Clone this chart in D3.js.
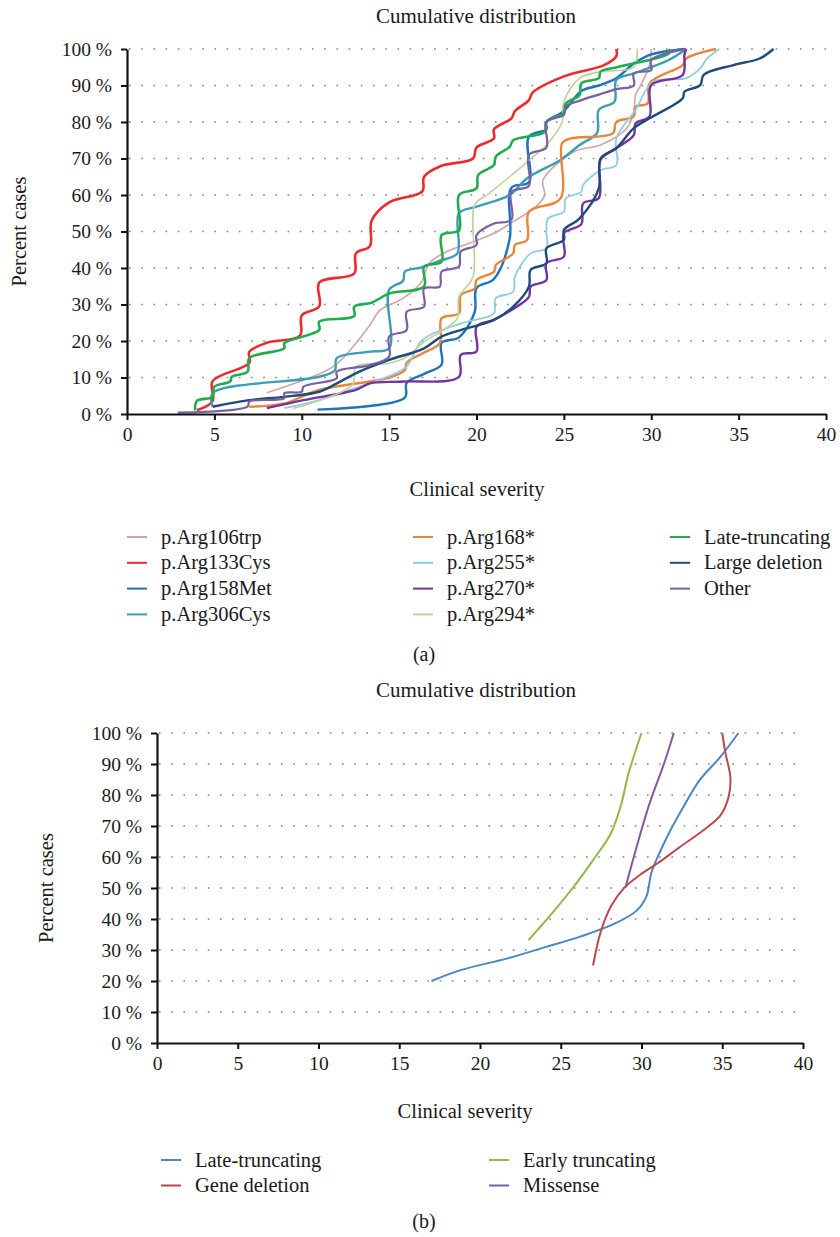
<!DOCTYPE html>
<html>
<head>
<meta charset="utf-8">
<script src="https://cdn.jsdelivr.net/npm/d3@7"></script>
<style>
  body { margin: 0; background: #fff; }
  svg { display: block; }
  text { font-family: "Liberation Serif", "DejaVu Serif", serif; fill: #1a1a1a; }
  .axis path, .axis line { stroke: #111; }
</style>
</head>
<body>
<svg width="840" height="1237"></svg>
<script>
// ---- data: [clinical severity, percent cases] ----
const severityTicks = [0, 5, 10, 15, 20, 25, 30, 35, 40];
const percentTicks = [0, 10, 20, 30, 40, 50, 60, 70, 80, 90, 100];

// panel (a)
const arg106trp = [[8,5.8],[11.8,13],[13.1,19.4],[13.9,24.4],[14.5,28.5],[15.8,31.7],[16.8,35.8],[17.3,41.3],[18.3,44.5],[19.6,46.8],[21,49.5],[22.1,52.7],[23.4,56.8],[23.9,60],[23.8,64],[25.6,71.9],[27.1,73.7],[28.6,78.3],[29,82.8],[29.1,87.4],[29.4,90.1],[29.9,95.6],[30,100]];
const arg133Cys = [[4,1],[4.9,3.5],[4.9,9],[7,14],[7,17],[8,19.5],[9.9,21.5],[10,27],[11,29.5],[11,36],[13,38.5],[13.1,44],[13.9,46],[14,53],[15,58],[16.9,61],[17,65],[18,68],[19.8,70],[20,73],[21,75.5],[21,78],[22,81],[22.2,83],[23,86],[23.2,88],[25,92.5],[27.3,95.6],[28,98],[28,100]];
const arg158Met = [[10.9,1.2],[15.9,4.5],[16,8.5],[17,11],[18,13.5],[18,19.5],[19,21],[19.9,28],[20,34.5],[21,37],[21.9,48],[22,62],[23,63.5],[23,76],[24,78],[24,80],[25,83],[26,88.5],[27,90],[28,92],[29,96],[30,98.5],[32,100]];
const arg306Cys = [[4.9,2],[4.9,5.7],[11,10.2],[11.9,12],[12,15.3],[13.9,17.1],[15,18],[15,34],[15.8,36.5],[15.9,39],[16.9,40.2],[17.9,42],[18.9,44],[19,55],[20,56.8],[21.9,60],[22.9,64.6],[24.8,69.6],[25.9,73.7],[26.9,77],[27,83.3],[27.9,85.6],[28,91.5],[29,93.3],[31,97],[32,100]];
const arg168 = [[7,2],[9,2.9],[11,6.6],[13.9,8.9],[14.9,9.8],[15.9,12],[16,14],[16.9,16.6],[17.9,19.4],[18,26.2],[19,27.6],[19.1,32.6],[19.9,34.4],[20,36.7],[21,39],[21.1,40.8],[22.1,44],[22.2,46.3],[22.9,47.7],[23,55.4],[24.8,59],[24.9,74.2],[25.4,75.5],[27.8,76.9],[28,80],[29,81.5],[29.1,84.2],[29.8,85.1],[29.9,90.6],[31.8,95.6],[32,97.4],[33.7,100]];
const arg255 = [[9,1.6],[11,3.8],[13,7],[14.9,10.2],[16,13],[16.9,20.3],[19.1,24.8],[21,27.6],[21.1,31.7],[22.1,33.5],[22.2,37.6],[23.1,44],[24,45.4],[24,50],[24.1,53.6],[25,55.4],[25.1,59],[26,60.9],[26.1,62.7],[27.1,66.8],[28,68.2],[28,75.5],[29.1,83.3],[30.1,91],[32,92],[32.8,94.7],[33.2,97.4],[33.9,100]];
const arg270 = [[8,1.6],[10.1,3.8],[13.1,6.6],[13.9,8.4],[15.8,8.9],[19,10.2],[19.1,16.2],[20,17.1],[20,23.9],[21,25.8],[22,28.5],[23,32.1],[23.1,34.9],[24,36.7],[24,41.3],[25,43.1],[25,49.5],[26,52],[26.1,57.7],[27,59.2],[27.1,69.6],[28,72.8],[29,76.4],[29.1,79.6],[29.9,81.5],[30,90.1],[31.8,92.9],[31.9,98.4],[32,100]];
const arg294 = [[9.5,1.5],[12.9,8],[13.1,13],[15,13.9],[16,15.7],[17,19.8],[18.1,23],[18.9,26.2],[19,32.1],[19.8,37.6],[19.9,57.3],[20.6,60],[21.9,65],[22.9,69.1],[24,73.7],[24.9,80],[25,85.6],[25.9,92],[27.1,93.8],[29,95],[29.2,100]];
const lateTruncA = [[3.9,1],[4,3.6],[4.9,4.7],[5,7.5],[5.9,8.9],[6,10.2],[6.9,11.6],[7,15.3],[9,18],[9,19.4],[11,23],[11,25.3],[13,26.8],[13,29.4],[14,30.5],[15,33],[17,35],[17,40.4],[18,41.7],[18,49],[19,50.4],[19,60],[20,61.8],[20.1,65.5],[21,68.2],[21.1,70.5],[21.9,73.2],[22.1,75],[23.9,77.3],[24,80],[25,82.4],[25.1,85],[25.9,87.4],[26,90.6],[27,92],[27.1,93.8],[28.1,95.1],[31,98.8],[31,100]];
const largeDeletion = [[4.9,2],[7,3.8],[9,4.7],[11,6.1],[12,8.4],[13.3,11.6],[15,14.8],[17,18],[18,21.2],[19.1,23],[21,25.8],[22.1,29.4],[23,34.9],[23.1,39.5],[24,41.3],[24,45.4],[25,47.7],[25,50.4],[25.9,53.6],[27,61.8],[27.1,70],[28,72.8],[29,78.3],[29.9,81],[31.8,86.5],[31.9,88.3],[32.8,90.1],[33,92.9],[34.7,95.6],[36.2,97.4],[37,100]];
const otherA = [[2.9,0.4],[6.9,2],[7,3.4],[9,4.3],[9,5.7],[10,6.1],[10.1,7.5],[12,9.8],[12,11.6],[13.9,13.4],[15,15.7],[15,21.2],[16,23],[16,28],[17,29.4],[17,34.4],[17.9,34.9],[18,39],[19,40.4],[19.1,44.5],[20,46.3],[20,49],[21,52.2],[22,53.2],[22,60.9],[23,62.5],[23,71],[24,73],[24,80],[25,82],[25.1,84.2],[26,86],[27,87.5],[28,89],[29,90],[29,93.3],[30,94.2],[30,97],[32,100]];

const namesA = ['p.Arg106trp','p.Arg133Cys','p.Arg158Met','p.Arg306Cys','p.Arg168*','p.Arg255*','p.Arg270*','p.Arg294*','Late-truncating','Large deletion','Other'];
const seriesA = [arg106trp, arg133Cys, arg158Met, arg306Cys, arg168, arg255, arg270, arg294, lateTruncA, largeDeletion, otherA];

// panel (b)
const lateTruncB = [[17,20],[18.8,23.5],[21.7,27.3],[24.1,31],[26.2,34.3],[28.3,38.4],[29.7,42.7],[30.3,47.2],[30.6,54.7],[31,60],[31.8,68.7],[32.6,76.2],[33.6,84.8],[34.9,92.4],[36,100]];
const geneDeletion = [[27,25],[27.45,35.4],[28.1,44],[28.9,49.9],[29.9,54.2],[31,58],[32.4,63.3],[33.85,68.7],[34.9,73.5],[35.4,79.5],[35.5,85.9],[35.2,93.5],[35,100]];
const earlyTrunc = [[23,33.2],[24.55,42.4],[25.8,50.4],[27,59],[28.1,67.6],[28.7,76.2],[29.2,87],[30,100]];
const missense = [[29,50],[29.7,63.3],[30.5,77.3],[31.4,90.2],[32,100]];

const namesB = ['Late-truncating','Gene deletion','Early truncating','Missense'];
const seriesB = [lateTruncB, geneDeletion, earlyTrunc, missense];

// ---- styles ----
const colorsA = ['#d8a2a4','#ed2a2e','#1c74bc','#3b9db6','#e8873a','#8ecde0','#7532a0','#bad49c','#22ad4c','#1f4a7c','#7a5fa2'];
const widthsA = [1.6,2.6,2.4,2.4,2.4,1.8,2.4,1.6,2.6,2.4,2.2];
const colorsB = ['#4a86c8','#c1464a','#8dbb45','#7d5ba6'];

const svg = d3.select('svg');

function panel(cfg) {
  const x = d3.scaleLinear().domain([0, 40]).range(cfg.xr);
  const y = d3.scaleLinear().domain([0, 100]).range(cfg.yr);
  const g = svg.append('g');

  // dotted gridlines
  g.selectAll('.grid')
    .data(percentTicks.filter(d => d > 0))
    .enter()
    .append('line')
    .attr('x1', x(0) + 2).attr('x2', x(40))
    .attr('y1', d => y(d)).attr('y2', d => y(d))
    .attr('stroke', '#808080')
    .attr('stroke-width', 1.6)
    .attr('stroke-dasharray', '1.6,10.6');

  const line = d3.line()
    .x(d => x(d[0]))
    .y(d => y(d[1]))
    .curve(d3.curveCatmullRom.alpha(0.5));

  g.selectAll('.series')
    .data(cfg.series)
    .enter()
    .append('path')
    .attr('fill', 'none')
    .attr('stroke', (d, i) => cfg.colors[i])
    .attr('stroke-width', (d, i) => cfg.widths ? cfg.widths[i] : 2)
    .attr('stroke-linejoin', 'round')
    .attr('d', line);

  const xAxis = g.append('g')
    .attr('class', 'axis')
    .attr('transform', `translate(0,${y(0)})`)
    .call(d3.axisBottom(x).tickValues(severityTicks).tickSize(6).tickSizeOuter(0).tickPadding(7));
  const yAxis = g.append('g')
    .attr('class', 'axis')
    .attr('transform', `translate(${x(0)},0)`)
    .call(d3.axisLeft(y).tickValues(percentTicks).tickFormat(d => d + ' %').tickSize(6).tickSizeOuter(0).tickPadding(9));
  [xAxis, yAxis].forEach(a => {
    a.select('.domain').attr('stroke-width', 2.2);
    a.selectAll('.tick line').attr('stroke-width', 2);
    a.selectAll('text').style('font-size', '19.5px').style('font-family', '"Liberation Serif", serif').attr('fill', '#1a1a1a');
  });

  g.append('text')
    .attr('x', 476).attr('y', cfg.titleY)
    .attr('text-anchor', 'middle').style('font-size', '21px')
    .text('Cumulative distribution');
  g.append('text')
    .attr('transform', `translate(${cfg.ylabX},${(y(0) + y(100)) / 2}) rotate(-90)`)
    .attr('text-anchor', 'middle').style('font-size', '20.5px')
    .text('Percent cases');
  g.append('text')
    .attr('x', cfg.xlabX).attr('y', cfg.xlabY)
    .attr('text-anchor', 'middle').style('font-size', '20.5px')
    .text('Clinical severity');

  // legend
  const leg = g.selectAll('.leg')
    .data(cfg.names)
    .enter()
    .append('g')
    .attr('transform', (d, i) => {
      const col = Math.floor(i / cfg.perCol);
      const row = i % cfg.perCol;
      return `translate(${cfg.legCols[col]},${cfg.legY + row * cfg.legStep})`;
    });
  leg.append('line')
    .attr('x1', -34).attr('x2', -14)
    .attr('y1', 0).attr('y2', 0)
    .attr('stroke', (d, i) => cfg.colors[i])
    .attr('stroke-width', 2);
  leg.append('text')
    .attr('y', 6.5)
    .style('font-size', '20.5px')
    .text(d => d);

  g.append('text')
    .attr('x', 424).attr('y', cfg.capY)
    .attr('text-anchor', 'middle').style('font-size', '20px')
    .text(cfg.caption);
}

panel({
  xr: [127, 826], yr: [414, 49],
  series: seriesA, colors: colorsA, widths: widthsA, names: namesA,
  titleY: 23, ylabX: 26, xlabX: 477, xlabY: 496,
  legCols: [161, 447, 704], legY: 537, legStep: 25.8, perCol: 4,
  capY: 661, caption: '(a)'
});

panel({
  xr: [157, 803], yr: [1043, 733],
  series: seriesB, colors: colorsB, names: namesB,
  titleY: 697, ylabX: 53, xlabX: 465, xlabY: 1118,
  legCols: [195, 523], legY: 1160, legStep: 25.5, perCol: 2,
  capY: 1228, caption: '(b)'
});
</script>
</body>
</html>
